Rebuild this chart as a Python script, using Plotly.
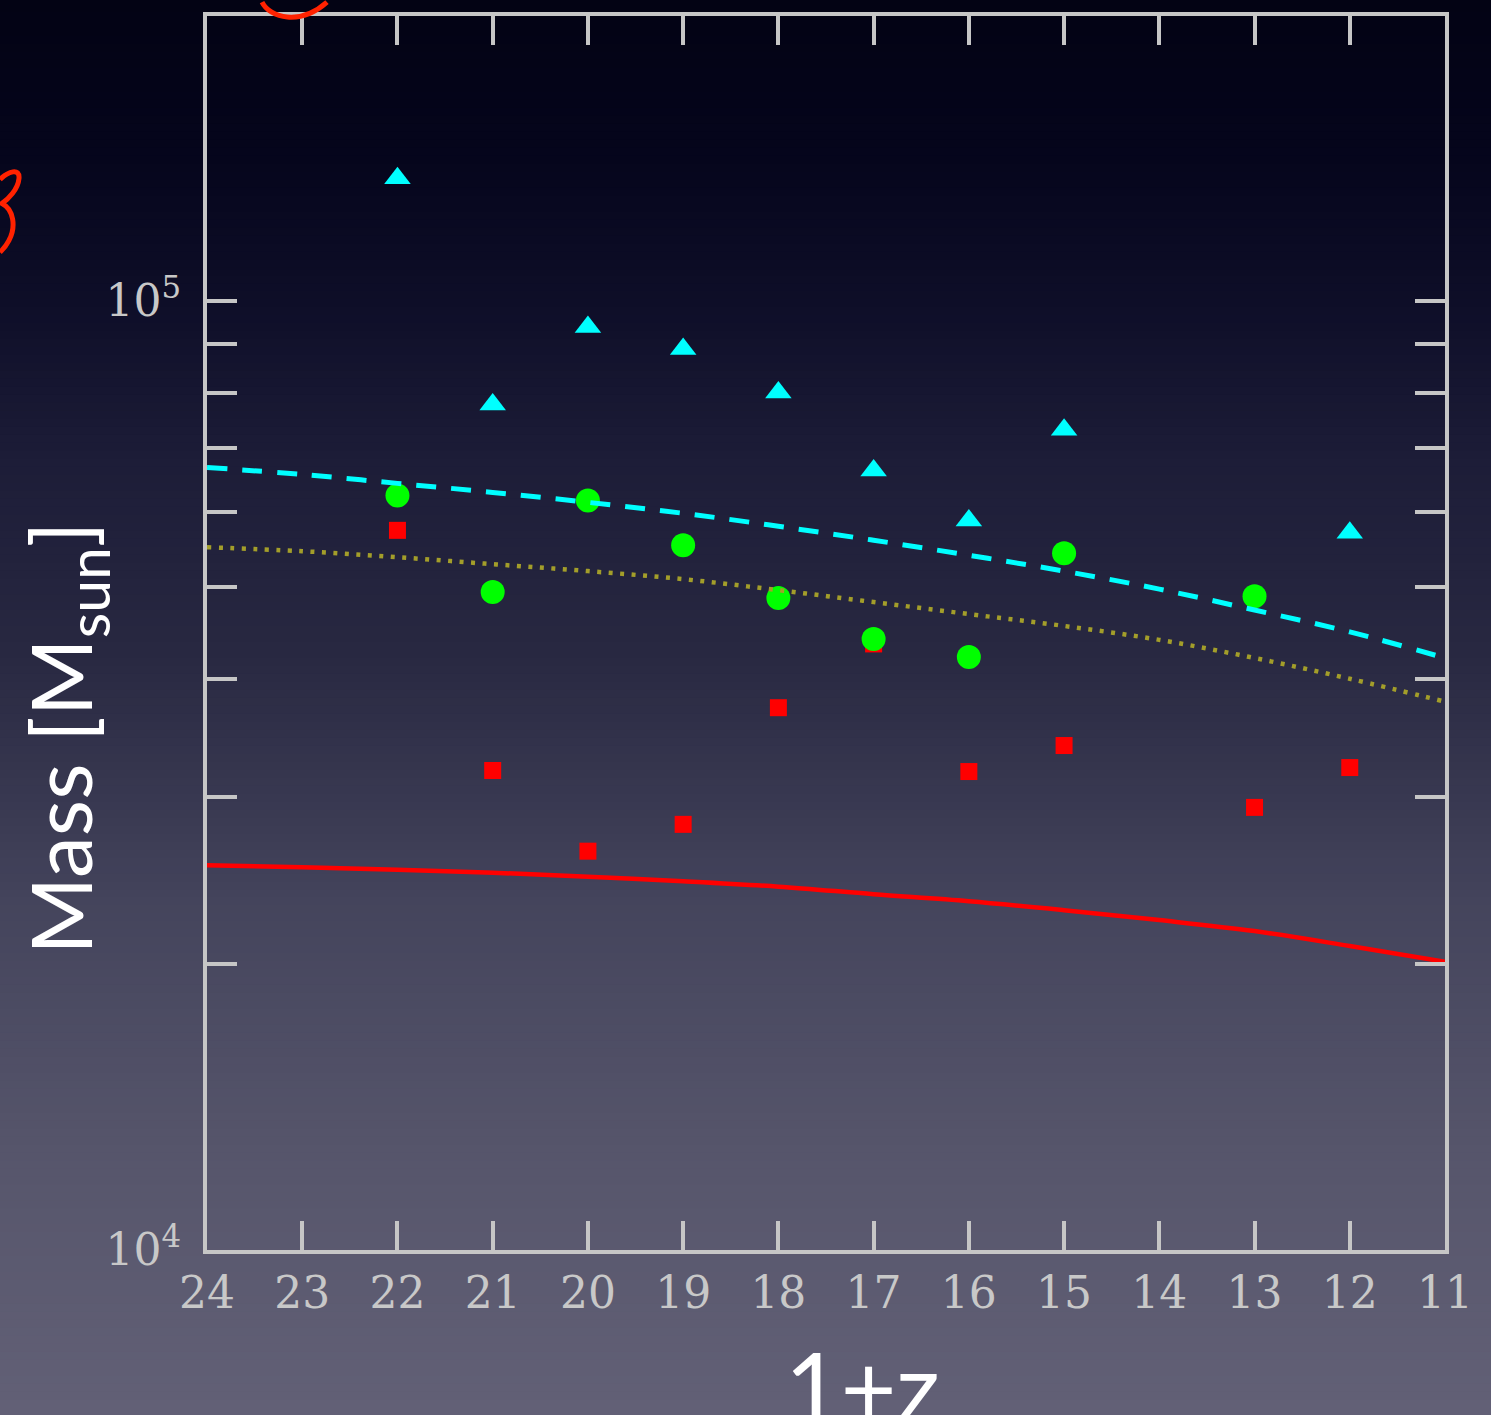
import plotly.graph_objects as go

# ---------------- data ----------------
z_ticks = list(range(11, 25))

tri_x = [22, 21, 20, 19, 18, 17, 16, 15, 12]
tri_y = [134700, 77800, 93900, 89000, 80100, 66300, 58700, 73200, 57000]

circ_x = [22, 21, 20, 19, 18, 17, 16, 15, 13]
circ_y = [62400, 49350, 61650, 55300, 48640, 44050, 42170, 54230, 48870]

sq_x = [22, 21, 20, 19, 18, 17, 16, 15, 13, 12]
sq_y = [57330, 32010, 26320, 28090, 37280, 43520, 31930, 34010, 29270, 32240]

curve_x = [24, 23, 22, 21, 20, 19, 18, 17, 16, 15, 14, 13, 12, 11]
cyan_curve = [66780, 65660, 64250, 62860, 61360, 59750, 57900, 55970, 53970,
              51930, 49710, 47250, 44810, 42060]
olive_curve = [55030, 54500, 53710, 52810, 51930, 50930, 49590, 48170, 46790,
               45460, 43950, 42060, 39990, 37830]
red_curve = [25440, 25310, 25160, 24980, 24740, 24470, 24150, 23710, 23310,
             22810, 22270, 21680, 20910, 20120]

y_tickvals = [1e4, 2e4, 3e4, 4e4, 5e4, 6e4, 7e4, 8e4, 9e4, 1e5]
y_ticktext = ["10<sup>4</sup>", "", "", "", "", "", "", "", "", "10<sup>5</sup>"]

# ---------------- layout geometry ----------------
W, H = 1491, 1415
L, R, T, B = 207, 46, 12, 165
PW = W - L - R
PH = H - T - B


def px2paper(px, py):
    return (px - L) / PW, (H - B - py) / PH


fig = go.Figure()

fig.add_trace(go.Scatter(x=sq_x, y=sq_y, mode="markers",
                         marker=dict(symbol="square", size=17, color="#ff0000",
                                     line=dict(width=0)),
                         showlegend=False))
fig.add_trace(go.Scatter(x=circ_x, y=circ_y, mode="markers",
                         marker=dict(symbol="circle", size=24, color="#00ff00",
                                     line=dict(width=0)),
                         showlegend=False))
fig.add_trace(go.Scatter(x=tri_x, y=tri_y, mode="markers",
                         marker=dict(symbol="triangle-up", size=23, color="#00ffff",
                                     line=dict(width=0)),
                         showlegend=False))
fig.add_trace(go.Scatter(x=curve_x, y=red_curve, mode="lines",
                         line=dict(color="#ff0000", width=4.5, shape="spline"),
                         showlegend=False))
fig.add_trace(go.Scatter(x=curve_x, y=olive_curve, mode="lines",
                         line=dict(color="#a39e2a", width=4.5, dash="4px,7.5px",
                                   shape="spline"),
                         showlegend=False))
fig.add_trace(go.Scatter(x=curve_x, y=cyan_curve, mode="lines",
                         line=dict(color="#00ffff", width=5, dash="20px,15px",
                                   shape="spline"),
                         showlegend=False))

# ---------------- background gradient ----------------
stops = [(0, (3, 3, 20)), (150, (5, 5, 28)), (300, (14, 14, 40)),
         (450, (28, 28, 55)), (650, (40, 40, 65)), (900, (68, 68, 92)),
         (1150, (86, 85, 107)), (1415, (98, 96, 118))]


def col_at(py):
    for (a, ca), (b, cb) in zip(stops[:-1], stops[1:]):
        if a <= py <= b:
            t = (py - a) / (b - a)
            return tuple(int(round(ca[i] + (cb[i] - ca[i]) * t)) for i in range(3))
    return stops[-1][1]


shapes = []
step = 8
for py in range(0, H, step):
    c = col_at(py + step / 2)
    x0, y1 = px2paper(0, py)
    x1, y0 = px2paper(W, py + step + 1)
    shapes.append(dict(type="rect", xref="paper", yref="paper",
                       x0=x0, x1=x1, y0=y0, y1=y1, layer="below",
                       line=dict(width=0),
                       fillcolor="rgb(%d,%d,%d)" % c))


def path_from(pts_cmds):
    out = []
    for cmd, pts in pts_cmds:
        s = cmd + " " + " ".join("%.5f,%.5f" % px2paper(*p) for p in pts)
        out.append(s)
    return " ".join(out)


# hand-drawn red marks (decorations)
arc = path_from([("M", [(262, -2)]), ("C", [(270, 14), (300, 22), (327, -2)])])
glyph = path_from([("M", [(0, 176)]),
                   ("C", [(8, 168), (20, 164), (19, 175)]),
                   ("C", [(18, 186), (8, 196), (2, 200)]),
                   ("C", [(14, 206), (16, 224), (9, 237)]),
                   ("C", [(6, 243), (3, 246), (0, 249)])])
for p in (arc, glyph):
    shapes.append(dict(type="path", xref="paper", yref="paper", path=p,
                       line=dict(color="#ff2200", width=5), layer="above"))

axis_color = "#c6c6c6"
tick_font = dict(family="DejaVu Serif", size=44, color="#c8c8c8")

fig.update_layout(
    width=W, height=H,
    margin=dict(l=L, r=R, t=T, b=B, pad=0),
    paper_bgcolor="rgb(3,3,20)",
    plot_bgcolor="rgba(0,0,0,0)",
    shapes=shapes,
    showlegend=False,
    xaxis=dict(range=[24, 11], tickvals=z_ticks, ticktext=[str(v) for v in z_ticks],
               showgrid=False, zeroline=False,
               showline=True, linecolor=axis_color, linewidth=4, mirror="allticks",
               ticks="inside", ticklen=29, tickwidth=4, tickcolor=axis_color,
               tickfont=tick_font, ticklabelstandoff=1),
    yaxis=dict(type="log", range=[4, 5.3004], tickvals=y_tickvals, ticktext=y_ticktext,
               showgrid=False, zeroline=False,
               showline=True, linecolor=axis_color, linewidth=4, mirror="allticks",
               ticks="inside", ticklen=30, tickwidth=4, tickcolor=axis_color,
               tickfont=tick_font, ticklabelstandoff=13),
    annotations=[
        dict(text="Mass [M<sub>sun</sub>]", xref="paper", yref="paper",
             x=px2paper(66, 0)[0], y=px2paper(0, 737)[1],
             xanchor="center", yanchor="middle", textangle=-90, showarrow=False,
             font=dict(family="Lato", size=84, color="#ffffff")),
        dict(text="1+z", xref="paper", yref="paper",
             x=px2paper(862, 0)[0], y=px2paper(0, 1386)[1],
             xanchor="center", yanchor="middle", showarrow=False,
             font=dict(family="Lato", size=96, color="#ffffff")),
    ],
)

fig.write_html("out.html")
